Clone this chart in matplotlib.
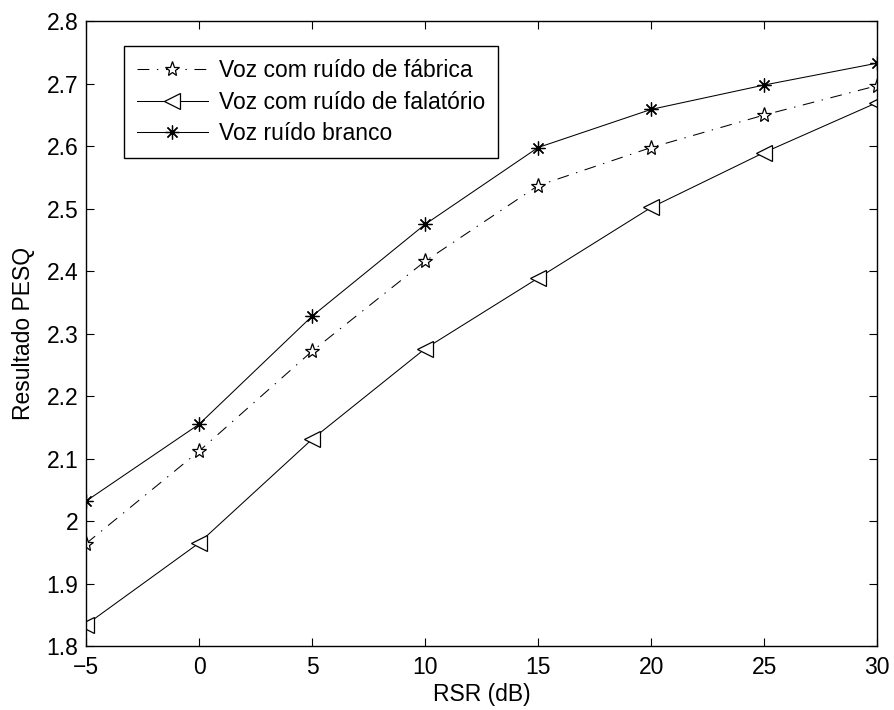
import matplotlib.pyplot as plt
import numpy as np

plt.rcParams["font.family"] = ["Liberation Sans", "DejaVu Sans"]
plt.rcParams["font.size"] = 16.5
plt.rcParams["lines.scale_dashes"] = False

# RSR values and PESQ scores for each noise type
rsr = [-5, 0, 5, 10, 15, 20, 25, 30]
pesq_fabrica = [1.964, 2.112, 2.272, 2.416, 2.537, 2.598, 2.650, 2.697]
pesq_falatorio = [1.834, 1.965, 2.131, 2.276, 2.389, 2.502, 2.590, 2.670]
pesq_branco = [2.032, 2.155, 2.328, 2.475, 2.598, 2.659, 2.698, 2.733]

labels = [
    "Voz com ruído de fábrica",
    "Voz com ruído de falatório",
    "Voz ruído branco",
]

fig = plt.figure(figsize=(8.94, 7.10), dpi=100)
ax = fig.add_axes([0.0962, 0.090, 0.885, 0.880])

ax.plot(rsr, pesq_fabrica, color="black", lw=0.75, dashes=(8.5, 5.5, 1, 5.5),
        marker="*", markersize=11, markerfacecolor="white",
        markeredgewidth=0.9, label=labels[0])
ax.plot(rsr, pesq_falatorio, color="black", lw=0.75, marker="<",
        markersize=12, markerfacecolor="white", markeredgewidth=0.9,
        label=labels[1])
ax.plot(rsr, pesq_branco, color="black", lw=0.75, marker=(8, 2, 0),
        markersize=10, markeredgewidth=0.9, label=labels[2])

ax.set_xlim(-5, 30)
ax.set_ylim(1.8, 2.8)
ax.set_xticks(np.arange(-5, 31, 5))
ax.set_yticks(np.arange(1.8, 2.81, 0.1))
ax.set_xticklabels(["\u22125"] + [str(v) for v in range(0, 31, 5)])
ax.set_yticklabels(["1.8", "1.9", "2", "2.1", "2.2", "2.3", "2.4", "2.5",
                    "2.6", "2.7", "2.8"])
ax.tick_params(direction="in", length=6, width=0.8, top=True, right=True,
               labelsize=16.5)
ax.tick_params(axis="x", pad=7)
ax.tick_params(axis="y", pad=5.5)
for s in ax.spines.values():
    s.set_linewidth(1.0)

ax.set_xlabel("RSR (dB)", fontsize=16.5, labelpad=3)
ax.set_ylabel("Resultado PESQ", fontsize=16.5, labelpad=8)

leg = ax.legend(loc="upper left", bbox_to_anchor=(0.048, 0.96),
                fancybox=False, edgecolor="black", framealpha=1,
                handlelength=3.1, handletextpad=0.5, borderpad=0.55,
                labelspacing=0.38, borderaxespad=0, fontsize=16.5)
leg.get_frame().set_linewidth(1.0)

fig.savefig("out.png", dpi=100)
